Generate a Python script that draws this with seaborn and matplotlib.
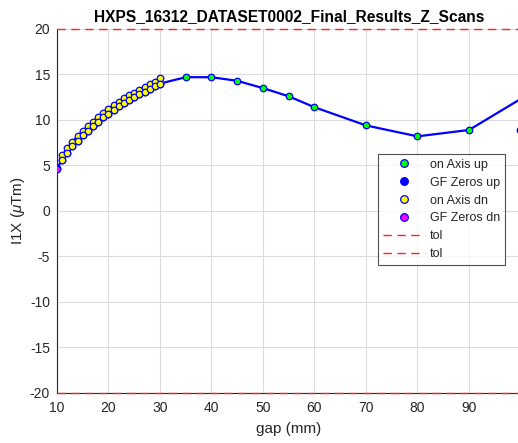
import matplotlib
matplotlib.use("Agg")
import matplotlib.pyplot as plt
import seaborn as sns
import pandas as pd
from matplotlib.lines import Line2D

# ---- data ----
up_gap = [10, 11, 12, 13, 14, 15, 16, 17, 18, 19, 20, 21, 22, 23, 24, 25, 26, 27, 28, 29, 30,
          35, 40, 45, 50, 55, 60, 70, 80, 90]
up_i1x = [4.7, 5.6, 6.4, 7.1, 7.7, 8.3, 8.8, 9.3, 9.8, 10.3, 10.7, 11.1, 11.5, 11.9, 12.2,
          12.5, 12.8, 13.1, 13.4, 13.7, 14.0,
          14.7, 14.7, 14.3, 13.5, 12.6, 11.4, 9.4, 8.2, 8.9]
tail_gap = [100]
tail_i1x = [12.3]

dn_gap_upper = [11, 12, 13, 14, 15, 16, 17, 18, 19, 20, 21, 22, 23, 24, 25, 26, 27, 28, 29, 30]
dn_i1x_upper = [6.1, 6.9, 7.6, 8.2, 8.8, 9.3, 9.8, 10.3, 10.8, 11.2, 11.6, 12.0, 12.4, 12.7,
                13.0, 13.3, 13.6, 13.9, 14.2, 14.6]
dn_gap_lower = [11, 12, 13, 14, 15, 16, 17, 18, 19, 20, 21, 22, 23, 24, 25, 26, 27, 28, 29, 30]
dn_i1x_lower = [5.6, 6.4, 7.1, 7.7, 8.3, 8.8, 9.3, 9.8, 10.3, 10.7, 11.1, 11.5, 11.9, 12.2,
                12.5, 12.8, 13.1, 13.4, 13.7, 14.0]

gf_up_gap = [100]
gf_up_i1x = [8.9]
gf_dn_gap = [10]
gf_dn_i1x = [4.6]

tol_levels = [20, -20]
x_ticks = [10, 20, 30, 40, 50, 60, 70, 80, 90]
y_ticks = [-20, -15, -10, -5, 0, 5, 10, 15, 20]
y_tick_labels = ["-20", "-15", "-10", "-5", "0", "5", "10", "15", "20"]

title = "HXPS_16312_DATASET0002_Final_Results_Z_Scans"

# ---- style ----
sns.set_style("white")
plt.rcParams['font.family'] = ['Liberation Sans', 'DejaVu Sans']
plt.rcParams['mathtext.fontset'] = 'custom'
plt.rcParams['mathtext.it'] = 'Liberation Sans:italic'
plt.rcParams['mathtext.rm'] = 'Liberation Sans'

fig = plt.figure(figsize=(5.18, 4.43), dpi=100)
ax = fig.add_axes([0.110, 0.1129, 0.8948, 0.8217])

line_df = pd.DataFrame({"gap": up_gap + tail_gap, "i1x": up_i1x + tail_i1x})
dn_line_df = pd.DataFrame({"gap": dn_gap_upper, "i1x": dn_i1x_upper})
up_df = pd.DataFrame({"gap": up_gap, "i1x": up_i1x})
dn_df = pd.DataFrame({"gap": dn_gap_upper + dn_gap_lower, "i1x": dn_i1x_upper + dn_i1x_lower})

blue = "#0000ff"
sns.lineplot(data=line_df, x="gap", y="i1x", ax=ax, color=blue, linewidth=1.6,
             sort=False, estimator=None, legend=False, zorder=3)
sns.lineplot(data=dn_line_df, x="gap", y="i1x", ax=ax, color=blue, linewidth=1.6,
             sort=False, estimator=None, legend=False, zorder=3)
ms = 22
sns.scatterplot(data=up_df, x="gap", y="i1x", ax=ax, color="#00ff00", edgecolor=blue,
                linewidth=0.9, s=ms, legend=False, zorder=4)
sns.scatterplot(x=gf_up_gap, y=gf_up_i1x, ax=ax, color=blue, edgecolor=blue,
                linewidth=0.9, s=ms, legend=False, zorder=4)
sns.scatterplot(data=dn_df, x="gap", y="i1x", ax=ax, color="#ffff00", edgecolor=blue,
                linewidth=0.9, s=ms, legend=False, zorder=5)
sns.scatterplot(x=gf_dn_gap, y=gf_dn_i1x, ax=ax, color="#ff00ff", edgecolor=blue,
                linewidth=0.9, s=ms, legend=False, zorder=6)
for lv in tol_levels:
    ax.axhline(lv, color="#ff2020", linestyle=(0, (6, 4)), linewidth=1.0, zorder=7, clip_on=False)

ax.set_xlim(10, 100)
ax.set_ylim(-20, 20)
ax.set_xticks(x_ticks)
ax.set_yticks(y_ticks)
ax.set_yticklabels(y_tick_labels)
ax.tick_params(axis='both', labelsize=10, colors="#262626", length=0)
ax.tick_params(axis='x', pad=6)
ax.tick_params(axis='y', pad=5)
ax.grid(True, color="#dcdcdc", linewidth=0.8)
ax.set_axisbelow(True)
for side in ["top", "right"]:
    ax.spines[side].set_visible(False)
for side in ["left", "bottom"]:
    ax.spines[side].set_color("#262626")
    ax.spines[side].set_linewidth(0.8)

ax.set_xlabel("gap (mm)", fontsize=11, color="#262626", labelpad=5)
ax.set_ylabel("I1X ($\\mu$Tm)", fontsize=11, color="#262626", labelpad=2)
ax.set_title(title, fontsize=11.2, fontweight="bold", color="black", pad=6)

def mk(fc):
    return Line2D([], [], linestyle="none", marker="o", markersize=5.5,
                  markerfacecolor=fc, markeredgecolor=blue, markeredgewidth=0.9)

handles = [mk("#00ff00"), mk(blue), mk("#ffff00"), mk("#ff00ff"),
           Line2D([], [], color="#ff2020", linestyle=(0, (6, 4)), linewidth=1.0),
           Line2D([], [], color="#ff2020", linestyle=(0, (6, 4)), linewidth=1.0)]
labels = ["on Axis up", "GF Zeros up", "on Axis dn", "GF Zeros dn", "tol", "tol"]
leg = ax.legend(handles, labels, loc="upper left", bbox_to_anchor=(0.692, 0.657),
                fontsize=9, frameon=True, fancybox=False, borderpad=0.4,
                labelspacing=0.47, handlelength=3.4, handletextpad=0.35, borderaxespad=0)
leg.get_frame().set_edgecolor("#262626")
leg.get_frame().set_linewidth(0.8)

fig.savefig("out.png", dpi=100)
